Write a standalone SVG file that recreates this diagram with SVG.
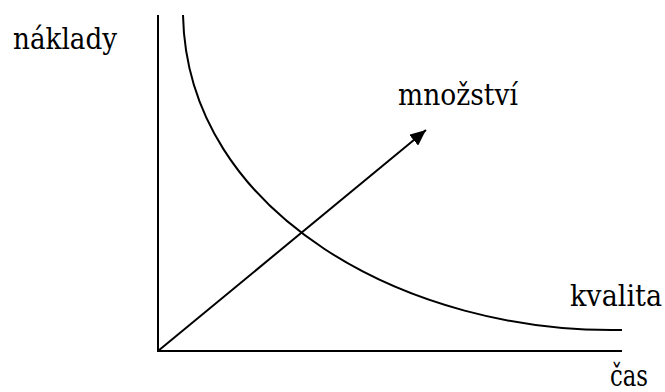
<svg xmlns="http://www.w3.org/2000/svg" width="665" height="392" viewBox="0 0 665 392">
<style>
.ln{fill:none;stroke:#000;stroke-width:2}
text{font-size:29px;fill:#000}
</style>
<defs>
<marker id="ah" markerWidth="16" markerHeight="14" refX="16" refY="7" orient="auto" markerUnits="userSpaceOnUse" viewBox="0 0 16 14">
<path d="M0,0 L16,7 L0,14 z" fill="#000"/>
</marker>
</defs>
<rect width="665" height="392" fill="#fff"/>
<g id="axes">
<path class="ln" d="M158,15 V351 H622"/>
</g>
<g id="curve">
<path class="ln" d="M183,15 C187,215 410,334 622,330"/>
</g>
<g id="connectors">
<line class="ln" x1="158" y1="351" x2="426" y2="130" marker-end="url(#ah)"/>
</g>
<g id="labels">
<text x="13" y="49" font-family="DejaVu Serif" textLength="104" lengthAdjust="spacingAndGlyphs">náklady</text>
<text x="398" y="105" font-family="DejaVu Serif" textLength="120" lengthAdjust="spacingAndGlyphs">množství</text>
<text x="570" y="306" font-family="DejaVu Serif" textLength="92" lengthAdjust="spacingAndGlyphs">kvalita</text>
<text x="610" y="386" font-family="DejaVu Serif" textLength="38" lengthAdjust="spacingAndGlyphs">čas</text>
</g>
</svg>
